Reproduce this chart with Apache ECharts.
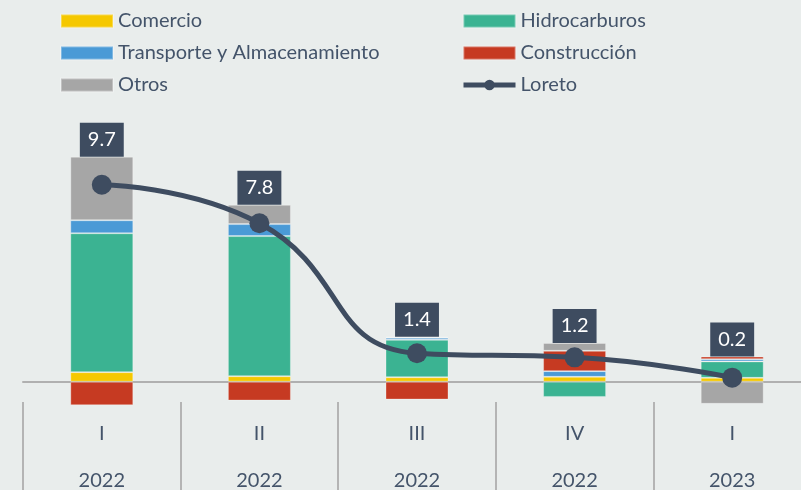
<!DOCTYPE html>
<html>
<head>
<meta charset="utf-8">
<script src="https://cdn.jsdelivr.net/npm/echarts@6/dist/echarts.min.js"></script>
<style>
  html, body { margin: 0; padding: 0; background: #e9edec; }
  #chart { width: 801px; height: 490px; }
</style>
</head>
<body>
<div id="chart"></div>
<script>
// datos
const quarters = ['I', 'II', 'III', 'IV', 'I']
const years = ['2022', '2022', '2022', '2022', '2023']
const comercio = [0.47, 0.27, 0.22, 0.24, 0.19]
const hidrocarburos = [6.84, 6.9, 1.84, -0.75, 0.81]
const transporte = [0.64, 0.59, 0.1, 0.28, 0.11]
const construccion = [-1.16, -0.93, -0.88, 1.0, 0.13]
const otros = [3.13, 0.95, 0.05, 0.39, -1.09]
const loreto = [9.7, 7.8, 1.4, 1.2, 0.2]

const textColor = '#44546a'
const darkBlue = '#3e4c60'
const font = 'Lato'

// tope de la parte positiva de cada barra, para colocar la etiqueta
const parts = [comercio, hidrocarburos, transporte, construccion, otros]
const topPos = loreto.map((v, i) => parts.reduce((s, arr) => s + Math.max(arr[i], 0), 0))

const cats = quarters.map((q, i) => q + '\n' + years[i])

function barSeries (name, data, color) {
  return {
    name: name,
    type: 'bar',
    stack: 'total',
    barWidth: 63,
    clip: false,
    data: data,
    itemStyle: { color: color, borderColor: 'rgba(255,255,255,0.3)', borderWidth: 1 }
  }
}

const legendBase = {
  top: 11,
  padding: 0,
  orient: 'vertical',
  itemWidth: 52,
  itemHeight: 13,
  itemGap: 12,
  textStyle: { color: textColor, fontSize: 20, fontFamily: font, lineHeight: 20 }
}

const myChart = echarts.init(document.getElementById('chart'))
const option = {
  backgroundColor: '#e9edec',
  animation: false,
  textStyle: { fontFamily: font },
  legend: [
    Object.assign({}, legendBase, {
      left: 60,
      data: [
        { name: 'Comercio', icon: 'rect' },
        { name: 'Transporte y Almacenamiento', icon: 'rect' },
        { name: 'Otros', icon: 'rect' }
      ]
    }),
    Object.assign({}, legendBase, {
      left: 461,
      data: [
        { name: 'Hidrocarburos', icon: 'rect' },
        { name: 'Construcción', icon: 'rect' },
        { name: 'Loreto', lineStyle: { width: 5 }, itemStyle: { color: darkBlue } }
      ]
    })
  ],
  grid: { left: 23, width: 788, top: 138, bottom: 88, outerBoundsMode: 'none', containLabel: false },
  xAxis: [
    {
      type: 'category',
      data: cats,
      axisLine: { show: false, onZero: false },
      axisTick: { show: true, length: 90, lineStyle: { color: '#b4b4b4', width: 2 } },
      axisLabel: {
        margin: 8,
        color: textColor,
        fontSize: 20,
        fontFamily: font,
        lineHeight: 47
      }
    },
    {
      type: 'category',
      position: 'bottom',
      data: cats,
      axisLine: { show: true, onZero: true, lineStyle: { color: '#b0b0b0', width: 2 } },
      axisTick: { show: false },
      axisLabel: { show: false }
    }
  ],
  yAxis: {
    type: 'value',
    min: -1,
    max: 12,
    show: false,
    splitLine: { show: false }
  },
  series: [
    barSeries('Comercio', comercio, '#f5c800'),
    barSeries('Hidrocarburos', hidrocarburos, '#3bb392'),
    barSeries('Transporte y Almacenamiento', transporte, '#4a9ad6'),
    barSeries('Construcción', construccion, '#c63a22'),
    barSeries('Otros', otros, '#a6a6a6'),
    {
      name: 'Loreto',
      type: 'line',
      smooth: 0.5,
      data: loreto,
      z: 5,
      symbol: 'circle',
      symbolSize: 20,
      lineStyle: { color: darkBlue, width: 5 },
      itemStyle: { color: darkBlue }
    },
    {
      name: 'etiquetas',
      type: 'scatter',
      data: topPos,
      symbolSize: 0,
      z: 6,
      silent: true,
      itemStyle: { opacity: 1 },
      label: {
        show: true,
        position: 'top',
        distance: 0,
        formatter: (p) => loreto[p.dataIndex].toFixed(1),
        color: '#ffffff',
        fontSize: 20,
        fontFamily: font,
        lineHeight: 22,
        backgroundColor: darkBlue,
        padding: [6, 8, 6, 8]
      }
    }
  ]
}
myChart.setOption(option)
</script>
</body>
</html>
